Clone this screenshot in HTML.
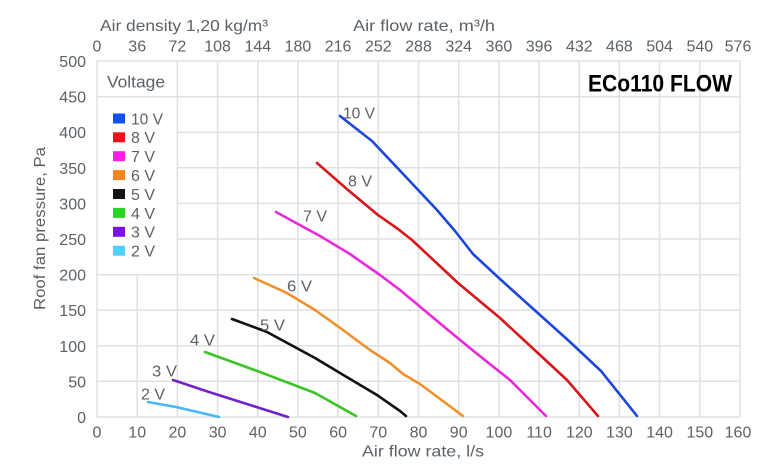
<!DOCTYPE html>
<html><head><meta charset="utf-8"><style>
html,body{margin:0;padding:0;background:#fff;}
svg{display:block;}
text{font-family:"Liberation Sans",sans-serif;fill:#5c6166;}
</style></head><body>
<svg width="771" height="471" viewBox="0 0 771 471" xmlns="http://www.w3.org/2000/svg">
<rect x="0" y="0" width="771" height="471" fill="#fff"/>
<!-- grid -->
<g stroke="#dde1e3" stroke-width="1.5" fill="none">
<line x1="97" y1="61" x2="97" y2="417"/>
<line x1="137.2" y1="275" x2="137.2" y2="417"/>
<line x1="177.4" y1="61" x2="177.4" y2="417"/>
<line x1="217.6" y1="61" x2="217.6" y2="417"/>
<line x1="257.8" y1="61" x2="257.8" y2="417"/>
<line x1="297.9" y1="61" x2="297.9" y2="417"/>
<line x1="338.1" y1="61" x2="338.1" y2="417"/>
<line x1="378.3" y1="61" x2="378.3" y2="417"/>
<line x1="418.5" y1="61" x2="418.5" y2="417"/>
<line x1="458.7" y1="61" x2="458.7" y2="417"/>
<line x1="498.9" y1="61" x2="498.9" y2="417"/>
<line x1="539.1" y1="61" x2="539.1" y2="417"/>
<line x1="579.3" y1="61" x2="579.3" y2="417"/>
<line x1="619.4" y1="61" x2="619.4" y2="417"/>
<line x1="659.6" y1="61" x2="659.6" y2="417"/>
<line x1="699.8" y1="61" x2="699.8" y2="417"/>
<line x1="740" y1="61" x2="740" y2="417"/>
<line x1="97" y1="61" x2="740" y2="61"/>
<line x1="97" y1="96.6" x2="740" y2="96.6"/>
<line x1="177.4" y1="132.2" x2="740" y2="132.2"/>
<line x1="177.4" y1="167.8" x2="740" y2="167.8"/>
<line x1="177.4" y1="203.4" x2="740" y2="203.4"/>
<line x1="177.4" y1="239" x2="740" y2="239"/>
<line x1="97" y1="274.6" x2="740" y2="274.6"/>
<line x1="97" y1="310.2" x2="740" y2="310.2"/>
<line x1="97" y1="345.8" x2="740" y2="345.8"/>
<line x1="97" y1="381.4" x2="740" y2="381.4"/>
<line x1="97" y1="417" x2="740" y2="417"/>
</g>
<!-- left tick labels -->
<g font-size="16" text-anchor="end">
<text x="86" y="67">500</text>
<text x="86" y="102.6">450</text>
<text x="86" y="138.2">400</text>
<text x="86" y="173.8">350</text>
<text x="86" y="209.4">300</text>
<text x="86" y="245">250</text>
<text x="86" y="280.6">200</text>
<text x="86" y="316.2">150</text>
<text x="86" y="351.8">100</text>
<text x="86" y="387.4">50</text>
<text x="86" y="423">0</text>
</g>
<!-- bottom tick labels -->
<g font-size="16" text-anchor="middle">
<text x="97" y="437.5">0</text>
<text x="137.2" y="437.5">10</text>
<text x="177.4" y="437.5">20</text>
<text x="217.6" y="437.5">30</text>
<text x="257.8" y="437.5">40</text>
<text x="297.9" y="437.5">50</text>
<text x="338.1" y="437.5">60</text>
<text x="378.3" y="437.5">70</text>
<text x="418.5" y="437.5">80</text>
<text x="458.7" y="437.5">90</text>
<text x="498.9" y="437.5">100</text>
<text x="539.1" y="437.5">110</text>
<text x="579.3" y="437.5">120</text>
<text x="619.4" y="437.5">130</text>
<text x="659.6" y="437.5">140</text>
<text x="699.8" y="437.5">150</text>
<text x="738" y="437.5">160</text>
</g>
<!-- top tick labels -->
<g font-size="16" text-anchor="middle">
<text x="97" y="51.5">0</text>
<text x="137.2" y="51.5">36</text>
<text x="177.4" y="51.5">72</text>
<text x="217.6" y="51.5">108</text>
<text x="257.8" y="51.5">144</text>
<text x="297.9" y="51.5">180</text>
<text x="338.1" y="51.5">216</text>
<text x="378.3" y="51.5">252</text>
<text x="418.5" y="51.5">288</text>
<text x="458.7" y="51.5">324</text>
<text x="498.9" y="51.5">360</text>
<text x="539.1" y="51.5">396</text>
<text x="579.3" y="51.5">432</text>
<text x="619.4" y="51.5">468</text>
<text x="659.6" y="51.5">504</text>
<text x="699.8" y="51.5">540</text>
<text x="738" y="51.5">576</text>
</g>
<!-- axis titles -->
<text x="100" y="31" font-size="16" textLength="168" lengthAdjust="spacingAndGlyphs">Air density 1,20 kg/m³</text>
<text x="353" y="31" font-size="16" textLength="142" lengthAdjust="spacingAndGlyphs">Air flow rate, m³/h</text>
<text x="362" y="456.5" font-size="16" textLength="122" lengthAdjust="spacingAndGlyphs">Air flow rate, l/s</text>
<text transform="translate(45,228.5) rotate(-90)" text-anchor="middle" font-size="16" textLength="163" lengthAdjust="spacingAndGlyphs">Roof fan pressure, Pa</text>
<!-- brand title -->
<text x="588" y="91.5" font-size="24" font-weight="bold" style="fill:#000" textLength="144" lengthAdjust="spacingAndGlyphs">ECo110 FLOW</text>
<!-- legend -->
<text x="107" y="87.7" font-size="17" textLength="58" lengthAdjust="spacingAndGlyphs">Voltage</text>
<rect x="113" y="113.5" width="12" height="10" fill="#1250f0"/>
<rect x="113" y="132.3" width="12" height="10" fill="#e8141c"/>
<rect x="113" y="151.2" width="12" height="10" fill="#ff1ee6"/>
<rect x="113" y="170.1" width="12" height="10" fill="#f5841f"/>
<rect x="113" y="189" width="12" height="10" fill="#151515"/>
<rect x="113" y="207.9" width="12" height="10" fill="#27d427"/>
<rect x="113" y="226.8" width="12" height="10" fill="#7a14e0"/>
<rect x="113" y="245.7" width="12" height="10" fill="#4fd0f8"/>
<g font-size="16">
<text x="131" y="124.3" textLength="32" lengthAdjust="spacingAndGlyphs">10 V</text>
<text x="131" y="143.2" textLength="24" lengthAdjust="spacingAndGlyphs">8 V</text>
<text x="131" y="162.1" textLength="24" lengthAdjust="spacingAndGlyphs">7 V</text>
<text x="131" y="181" textLength="24" lengthAdjust="spacingAndGlyphs">6 V</text>
<text x="131" y="199.9" textLength="24" lengthAdjust="spacingAndGlyphs">5 V</text>
<text x="131" y="218.8" textLength="24" lengthAdjust="spacingAndGlyphs">4 V</text>
<text x="131" y="237.7" textLength="24" lengthAdjust="spacingAndGlyphs">3 V</text>
<text x="131" y="256.6" textLength="24" lengthAdjust="spacingAndGlyphs">2 V</text>
</g>
<!-- curves -->
<g fill="none" stroke-width="2.6" stroke-linejoin="round" stroke-linecap="round">
<polyline stroke="#1e46d8" points="340,116 372,141 405,176 437,210 455,231 473,254 500,279 540,315 569,341 601,371 637,416"/>
<polyline stroke="#d7161a" points="317,163 348,190 378,215 398,229 412,240 458,283 500,318 540,355 567,380 598,416"/>
<polyline stroke="#e82bd6" points="276,212 320,236 350,254 380,275 400,290 448,330 476,353 510,380 546,416"/>
<polyline stroke="#f0902a" points="254,278 287,293 315,310 343,330 370,350 390,363 403,374 420,384 463,416"/>
<polyline stroke="#111111" points="232,319 267,332 315,358 345,376 377,395 400,411 406,416"/>
<polyline stroke="#3cc424" points="205,352 260,372 315,393 356,416"/>
<polyline stroke="#7421c9" points="173,380 209,392 250,405 288,417"/>
<polyline stroke="#46b9f0" points="148,402 176,407 219,417"/>
</g>
<!-- curve labels -->
<g font-size="16">
<text x="343" y="118.3" textLength="32" lengthAdjust="spacingAndGlyphs">10 V</text>
<text x="348" y="186.7" textLength="24" lengthAdjust="spacingAndGlyphs">8 V</text>
<text x="303" y="221.7" textLength="24" lengthAdjust="spacingAndGlyphs">7 V</text>
<text x="287" y="291.7" textLength="25" lengthAdjust="spacingAndGlyphs">6 V</text>
<text x="260" y="330.7" textLength="25" lengthAdjust="spacingAndGlyphs">5 V</text>
<text x="190" y="345.7" textLength="25" lengthAdjust="spacingAndGlyphs">4 V</text>
<text x="152" y="376.7" textLength="25" lengthAdjust="spacingAndGlyphs">3 V</text>
<text x="141" y="399.3" textLength="24" lengthAdjust="spacingAndGlyphs">2 V</text>
</g>
</svg>
</body></html>
